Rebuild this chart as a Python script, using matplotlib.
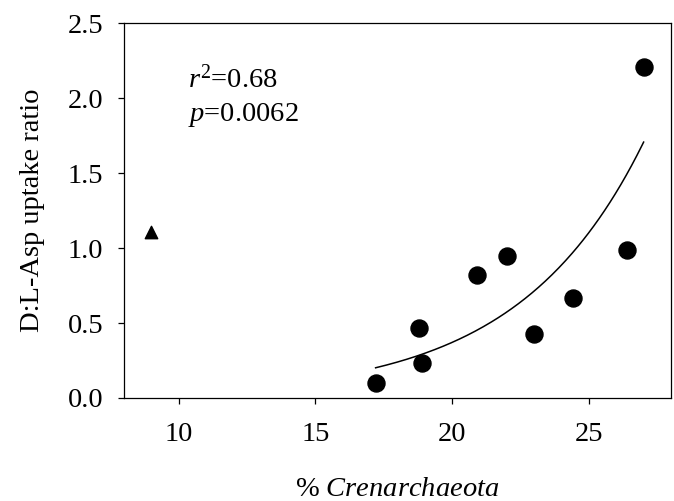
import numpy as np
import matplotlib
matplotlib.use("Agg")
import matplotlib.pyplot as plt

# ------------------------------------------------------------
# Data
# ------------------------------------------------------------
cren_pct = [17.2, 18.8, 18.9, 20.9, 22.0, 23.0, 24.4, 26.4, 27.0]
dl_ratio = [0.10, 0.47, 0.23, 0.82, 0.95, 0.43, 0.67, 0.99, 2.21]

# outlier shown as a triangle
tri_pct = [9.0]
tri_ratio = [1.11]

# exponential fit y = a * exp(b * x), drawn over the circle range
fit_a = 0.00474
fit_b = 0.218
fit_range = (17.2, 27.0)

x_ticks = [10, 15, 20, 25]
y_ticks = [0.0, 0.5, 1.0, 1.5, 2.0, 2.5]

# ------------------------------------------------------------
# Style
# ------------------------------------------------------------
FS = 20.5
plt.rcParams["font.family"] = ["Liberation Serif", "DejaVu Serif"]
plt.rcParams["mathtext.fontset"] = "custom"
plt.rcParams["mathtext.rm"] = "Liberation Serif"
plt.rcParams["mathtext.it"] = "Liberation Serif:italic"

fig = plt.figure(figsize=(6.74, 5.01), dpi=100)
ax = fig.add_axes([0.184, 0.2056, 0.8115, 0.7484])

ax.scatter(cren_pct, dl_ratio, s=150, color="black", zorder=3)
ax.scatter(tri_pct, tri_ratio, marker="^", s=80, color="black", zorder=3)

xf = np.linspace(fit_range[0], fit_range[1], 200)
ax.plot(xf, fit_a * np.exp(fit_b * xf), color="black", lw=1.1)

ax.set_xlim(8, 28)
ax.set_ylim(0, 2.5)
ax.set_xticks(x_ticks)
ax.set_yticks(y_ticks)
ax.set_yticklabels([f"{v:.1f}" for v in y_ticks])
ax.tick_params(axis="both", direction="out", length=4, width=0.9,
               labelsize=FS, colors="black")
ax.tick_params(axis="x", pad=13)
ax.tick_params(axis="y", pad=11)
for sp in ax.spines.values():
    sp.set_linewidth(0.9)

ax.set_xlabel(r"% $\it{Crenarchaeota}$", fontsize=FS)
ax.xaxis.label.set_va("baseline")
ax.xaxis.set_label_coords(0.5, -0.262)
ax.set_ylabel("D:L-Asp uptake ratio", fontsize=FS)
ax.yaxis.set_label_coords(-0.145, 0.5)

ax.text(10.34, 2.07, r"$r^2$=0.68", fontsize=FS, va="baseline")
ax.text(10.34, 1.85, r"$p$=0.0062", fontsize=FS, va="baseline")

fig.savefig("out.png", dpi=100)
